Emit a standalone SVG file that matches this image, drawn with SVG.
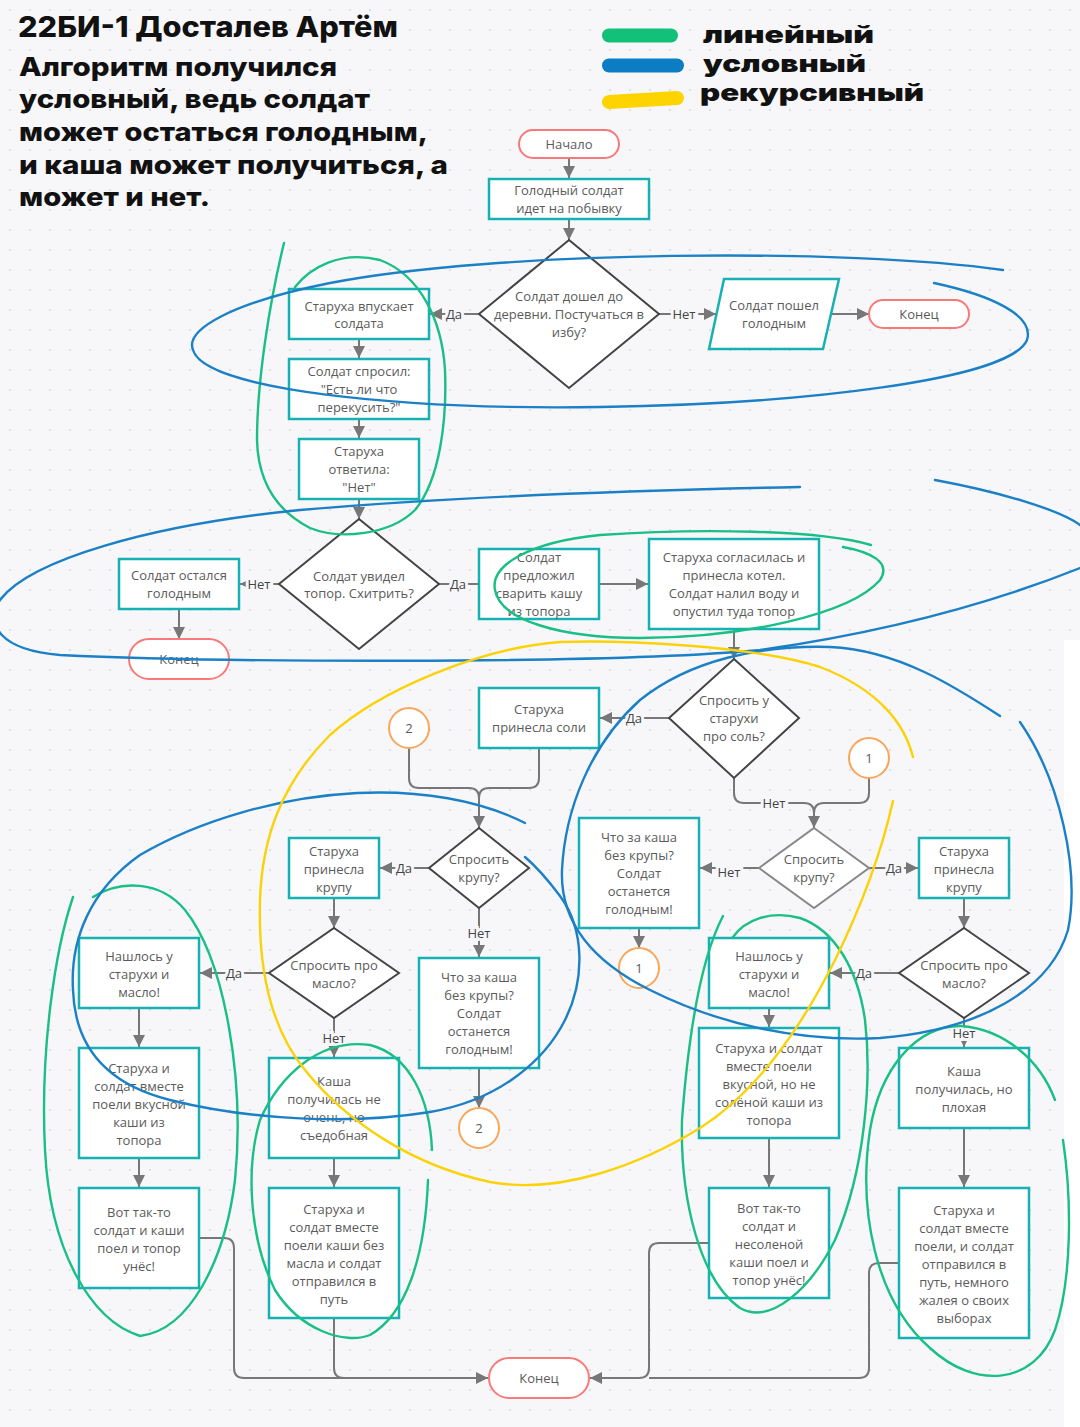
<svg xmlns="http://www.w3.org/2000/svg" width="1080" height="1427" viewBox="0 0 1080 1427">
  <defs>
    <pattern id="dots" width="20" height="20" patternUnits="userSpaceOnUse">
      <circle cx="10" cy="10" r="1.1" fill="#d9d9e0"/>
    </pattern>
    <marker id="arr" viewBox="0 0 10 10" refX="10" refY="5" markerWidth="12" markerHeight="12" markerUnits="userSpaceOnUse" orient="auto">
      <path d="M0,0 L10,5 L0,10 z" fill="#777"/>
    </marker>
    <style>
      .title{font-family:Inter,"Open Sans","DejaVu Sans",sans-serif;font-weight:800;fill:#111}
      .legend{font-family:Inter,"Open Sans","DejaVu Sans",sans-serif;font-weight:900;font-size:24px;fill:#111}
      .box{fill:#fff;stroke:#17b1b4;stroke-width:2.5}
      .term{fill:#fff;stroke:#f87a78;stroke-width:2}
      .dec{fill:#fff;stroke:#444;stroke-width:2}
      .dec2{fill:#fff;stroke:#888;stroke-width:2}
      .con{fill:#fff;stroke:#f8a75a;stroke-width:2}
      .t{font-family:"Open Sans","Liberation Sans",sans-serif;font-size:13px;fill:#5b5b5b;text-anchor:middle;dominant-baseline:central}
      .lbl{font-family:"Open Sans","Liberation Sans",sans-serif;font-size:13px;fill:#444;text-anchor:middle;dominant-baseline:central;stroke:#f7f7fa;stroke-width:6;paint-order:stroke}
      .ln{fill:none;stroke:#777;stroke-width:2}
      .hand{fill:none;stroke-width:2.4;stroke-linecap:round;stroke-linejoin:round}
      .blue{stroke:#1b80c6}
      .green{stroke:#19bf83}
      .yellow{stroke:#fbd208}
    </style>
  </defs>

  <!-- canvas -->
  <rect x="0" y="0" width="1080" height="1427" fill="#f7f7fa"/>
  <rect x="0" y="0" width="1080" height="1427" fill="url(#dots)"/>
  <rect x="1064" y="640" width="16" height="787" fill="#ffffff"/>

  <!-- heading -->
  <g id="heading">
    <text class="title" x="18" y="37" font-size="29" textLength="380" lengthAdjust="spacingAndGlyphs">22БИ-1 Досталев Артём</text>
    <text class="title" x="19" y="76" font-size="26" textLength="318" lengthAdjust="spacingAndGlyphs">Алгоритм получился</text>
    <text class="title" x="19" y="108" font-size="26" textLength="351" lengthAdjust="spacingAndGlyphs">условный, ведь солдат</text>
    <text class="title" x="19" y="141" font-size="26" textLength="409" lengthAdjust="spacingAndGlyphs">может остаться голодным,</text>
    <text class="title" x="19" y="174" font-size="26" textLength="429" lengthAdjust="spacingAndGlyphs">и каша может получиться, а</text>
    <text class="title" x="19" y="206" font-size="26" textLength="191" lengthAdjust="spacingAndGlyphs">может и нет.</text>
  </g>

  <!-- colour legend -->
  <g id="legend">
    <line x1="609" y1="35.5" x2="671" y2="35.5" stroke="#12c07a" stroke-width="14" stroke-linecap="round"/>
    <line x1="609" y1="65.5" x2="677" y2="65.5" stroke="#0c7cc4" stroke-width="14" stroke-linecap="round"/>
    <line x1="609" y1="102" x2="677" y2="98" stroke="#fdd400" stroke-width="14" stroke-linecap="round"/>
    <text class="legend" x="703" y="43" textLength="171" lengthAdjust="spacingAndGlyphs">линейный</text>
    <text class="legend" x="703" y="72" textLength="163" lengthAdjust="spacingAndGlyphs">условный</text>
    <text class="legend" x="700" y="101" textLength="224" lengthAdjust="spacingAndGlyphs">рекурсивный</text>
  </g>

  <!-- connectors -->
  <g id="connectors">
    <path class="ln" d="M569,158 V178" marker-end="url(#arr)"/>
    <path class="ln" d="M569,219 V240" marker-end="url(#arr)"/>
    <path class="ln" d="M479,314 H430" marker-end="url(#arr)"/>
    <path class="ln" d="M659,314 H716" marker-end="url(#arr)"/>
    <path class="ln" d="M831,314 H869" marker-end="url(#arr)"/>
    <path class="ln" d="M359,339 V358" marker-end="url(#arr)"/>
    <path class="ln" d="M359,419 V438" marker-end="url(#arr)"/>
    <path class="ln" d="M359,499 V519" marker-end="url(#arr)"/>
    <path class="ln" d="M279,584 H240" marker-end="url(#arr)"/>
    <path class="ln" d="M179,609 V639" marker-end="url(#arr)"/>
    <path class="ln" d="M439,584 H479"/>
    <path class="ln" d="M599,584 H648" marker-end="url(#arr)"/>
    <path class="ln" d="M734,629 V659" marker-end="url(#arr)"/>
    <path class="ln" d="M669,718 H600" marker-end="url(#arr)"/>
    <path class="ln" d="M734,778 V793 Q734,803 744,803 H804 Q814,803 814,813 V828" marker-end="url(#arr)"/>
    <path class="ln" d="M869,778 V793 Q869,803 859,803 H824 Q814,803 814,813"/>
    <path class="ln" d="M759,868 H700" marker-end="url(#arr)"/>
    <path class="ln" d="M869,868 H918" marker-end="url(#arr)"/>
    <path class="ln" d="M639,928 V948" marker-end="url(#arr)"/>
    <path class="ln" d="M964,898 V928" marker-end="url(#arr)"/>
    <path class="ln" d="M899,973 H830" marker-end="url(#arr)"/>
    <path class="ln" d="M769,1008 V1027" marker-end="url(#arr)"/>
    <path class="ln" d="M769,1138 V1187" marker-end="url(#arr)"/>
    <path class="ln" d="M964,1018 V1047" marker-end="url(#arr)"/>
    <path class="ln" d="M964,1128 V1187" marker-end="url(#arr)"/>
    <path class="ln" d="M709,1243 H659 Q649,1243 649,1253 V1368 Q649,1378 639,1378 H590" marker-end="url(#arr)"/>
    <path class="ln" d="M899,1263 H879 Q869,1263 869,1273 V1368 Q869,1378 859,1378 H649"/>
    <path class="ln" d="M409,748 V778 Q409,788 419,788 H469 Q479,788 479,798 V828" marker-end="url(#arr)"/>
    <path class="ln" d="M539,748 V778 Q539,788 529,788 H489 Q479,788 479,798"/>
    <path class="ln" d="M429,868 H380" marker-end="url(#arr)"/>
    <path class="ln" d="M479,908 V957" marker-end="url(#arr)"/>
    <path class="ln" d="M479,1068 V1108" marker-end="url(#arr)"/>
    <path class="ln" d="M334,898 V928" marker-end="url(#arr)"/>
    <path class="ln" d="M269,973 H200" marker-end="url(#arr)"/>
    <path class="ln" d="M139,1008 V1047" marker-end="url(#arr)"/>
    <path class="ln" d="M139,1158 V1187" marker-end="url(#arr)"/>
    <path class="ln" d="M334,1018 V1057" marker-end="url(#arr)"/>
    <path class="ln" d="M334,1158 V1187" marker-end="url(#arr)"/>
    <path class="ln" d="M199,1238 H224 Q234,1238 234,1248 V1368 Q234,1378 244,1378 H488" marker-end="url(#arr)"/>
    <path class="ln" d="M334,1318 V1368 Q334,1378 344,1378"/>
    <!-- branch labels -->
    <text class="lbl" x="454" y="314">Да</text>
    <text class="lbl" x="684" y="314">Нет</text>
    <text class="lbl" x="259" y="584">Нет</text>
    <text class="lbl" x="458" y="584">Да</text>
    <text class="lbl" x="634" y="718">Да</text>
    <text class="lbl" x="774" y="803">Нет</text>
    <text class="lbl" x="729" y="872">Нет</text>
    <text class="lbl" x="894" y="868">Да</text>
    <text class="lbl" x="864" y="973">Да</text>
    <text class="lbl" x="964" y="1033">Нет</text>
    <text class="lbl" x="404" y="868">Да</text>
    <text class="lbl" x="479" y="933">Нет</text>
    <text class="lbl" x="234" y="973">Да</text>
    <text class="lbl" x="334" y="1038">Нет</text>
  </g>

  <!-- nodes: upper part -->
  <g id="start"><rect class="term" x="519" y="130" width="100" height="28" rx="14"/><text class="t" x="569" y="144">Начало</text></g>
  <g id="n-walk"><rect class="box" x="489" y="179" width="160" height="40"/><text class="t"><tspan x="569" y="190">Голодный солдат</tspan><tspan x="569" y="208">идет на побывку</tspan></text></g>
  <g id="d-village"><polygon class="dec" points="569,240 659,314 569,388 479,314"/><text class="t"><tspan x="569" y="296">Солдат дошел до</tspan><tspan x="569" y="314">деревни. Постучаться в</tspan><tspan x="569" y="332">избу?</tspan></text></g>
  <g id="n-letin"><rect class="box" x="289" y="289" width="140" height="50"/><text class="t"><tspan x="359" y="306">Старуха впускает</tspan><tspan x="359" y="323">солдата</tspan></text></g>
  <g id="n-hungry-leave"><polygon class="box" points="724,279 839,279 823,349 709,349"/><text class="t"><tspan x="774" y="305">Солдат пошел</tspan><tspan x="774" y="323">голодным</tspan></text></g>
  <g id="end-1"><rect class="term" x="869" y="300" width="100" height="28" rx="14"/><text class="t" x="919" y="314">Конец</text></g>
  <g id="n-ask"><rect class="box" x="289" y="359" width="140" height="60"/><text class="t"><tspan x="359" y="371">Солдат спросил:</tspan><tspan x="359" y="389">"Есть ли что</tspan><tspan x="359" y="407">перекусить?"</tspan></text></g>
  <g id="n-answer"><rect class="box" x="299" y="439" width="120" height="60"/><text class="t"><tspan x="359" y="451">Старуха</tspan><tspan x="359" y="469">ответила:</tspan><tspan x="359" y="487">"Нет"</tspan></text></g>
  <g id="d-axe"><polygon class="dec" points="359,519 439,584 359,649 279,584"/><text class="t"><tspan x="359" y="576">Солдат увидел</tspan><tspan x="359" y="593">топор. Схитрить?</tspan></text></g>
  <g id="n-stayed-hungry"><rect class="box" x="119" y="559" width="120" height="50"/><text class="t"><tspan x="179" y="575">Солдат остался</tspan><tspan x="179" y="593">голодным</tspan></text></g>
  <g id="end-2"><rect class="term" x="129" y="639" width="100" height="40" rx="20"/><text class="t" x="179" y="659">Конец</text></g>
  <g id="n-offer"><rect class="box" x="479" y="549" width="120" height="70"/><text class="t"><tspan x="539" y="557">Солдат</tspan><tspan x="539" y="575">предложил</tspan><tspan x="539" y="593">сварить кашу</tspan><tspan x="539" y="611">из топора</tspan></text></g>
  <g id="n-pot"><rect class="box" x="649" y="539" width="170" height="90"/><text class="t"><tspan x="734" y="557">Старуха согласилась и</tspan><tspan x="734" y="575">принесла котел.</tspan><tspan x="734" y="593">Солдат налил воду и</tspan><tspan x="734" y="611">опустил туда топор</tspan></text></g>
  <g id="d-salt"><polygon class="dec" points="734,659 799,718 734,778 669,718"/><text class="t"><tspan x="734" y="700">Спросить у</tspan><tspan x="734" y="718">старухи</tspan><tspan x="734" y="736">про соль?</tspan></text></g>
  <g id="n-salt"><rect class="box" x="479" y="688" width="120" height="60"/><text class="t"><tspan x="539" y="709">Старуха</tspan><tspan x="539" y="727">принесла соли</tspan></text></g>

  <!-- nodes: salted branch -->
  <g id="c2-in"><circle class="con" cx="409" cy="728" r="20"/><text class="t" x="409" y="728">2</text></g>
  <g id="d-grain-a"><polygon class="dec" points="479,828 529,868 479,908 429,868"/><text class="t"><tspan x="479" y="859">Спросить</tspan><tspan x="479" y="877">крупу?</tspan></text></g>
  <g id="n-grain-a"><rect class="box" x="289" y="838" width="90" height="60"/><text class="t"><tspan x="334" y="851">Старуха</tspan><tspan x="334" y="869">принесла</tspan><tspan x="334" y="887">крупу</tspan></text></g>
  <g id="n-nograin-a"><rect class="box" x="419" y="958" width="120" height="110"/><text class="t"><tspan x="479" y="977">Что за каша</tspan><tspan x="479" y="995">без крупы?</tspan><tspan x="479" y="1013">Солдат</tspan><tspan x="479" y="1031">останется</tspan><tspan x="479" y="1049">голодным!</tspan></text></g>
  <g id="c2-out"><circle class="con" cx="479" cy="1128" r="20"/><text class="t" x="479" y="1128">2</text></g>
  <g id="d-butter-a"><polygon class="dec" points="334,928 399,973 334,1018 269,973"/><text class="t"><tspan x="334" y="965">Спросить про</tspan><tspan x="334" y="983">масло?</tspan></text></g>
  <g id="n-butter-a"><rect class="box" x="79" y="938" width="120" height="70"/><text class="t"><tspan x="139" y="956">Нашлось у</tspan><tspan x="139" y="974">старухи и</tspan><tspan x="139" y="992">масло!</tspan></text></g>
  <g id="n-tasty-a"><rect class="box" x="79" y="1048" width="120" height="110"/><text class="t"><tspan x="139" y="1068">Старуха и</tspan><tspan x="139" y="1086">солдат вместе</tspan><tspan x="139" y="1104">поели вкусной</tspan><tspan x="139" y="1122">каши из</tspan><tspan x="139" y="1140">топора</tspan></text></g>
  <g id="n-final-a"><rect class="box" x="79" y="1188" width="120" height="100"/><text class="t"><tspan x="139" y="1212">Вот так-то</tspan><tspan x="139" y="1230">солдат и каши</tspan><tspan x="139" y="1248">поел и топор</tspan><tspan x="139" y="1266">унёс!</tspan></text></g>
  <g id="n-edible-a"><rect class="box" x="269" y="1058" width="130" height="100"/><text class="t"><tspan x="334" y="1081">Каша</tspan><tspan x="334" y="1099">получилась не</tspan><tspan x="334" y="1117">очень, но</tspan><tspan x="334" y="1135">съедобная</tspan></text></g>
  <g id="n-nobutter-a"><rect class="box" x="269" y="1188" width="130" height="130"/><text class="t"><tspan x="334" y="1209">Старуха и</tspan><tspan x="334" y="1227">солдат вместе</tspan><tspan x="334" y="1245">поели каши без</tspan><tspan x="334" y="1263">масла и солдат</tspan><tspan x="334" y="1281">отправился в</tspan><tspan x="334" y="1299">путь</tspan></text></g>

  <!-- nodes: unsalted branch -->
  <g id="c1-in"><circle class="con" cx="869" cy="758" r="20"/><text class="t" x="869" y="758">1</text></g>
  <g id="d-grain-b"><polygon class="dec2" points="814,828 869,868 814,908 759,868"/><text class="t"><tspan x="814" y="859">Спросить</tspan><tspan x="814" y="877">крупу?</tspan></text></g>
  <g id="n-nograin-b"><rect class="box" x="579" y="818" width="120" height="110"/><text class="t"><tspan x="639" y="837">Что за каша</tspan><tspan x="639" y="855">без крупы?</tspan><tspan x="639" y="873">Солдат</tspan><tspan x="639" y="891">останется</tspan><tspan x="639" y="909">голодным!</tspan></text></g>
  <g id="c1-out"><circle class="con" cx="639" cy="968" r="20"/><text class="t" x="639" y="968">1</text></g>
  <g id="n-grain-b"><rect class="box" x="919" y="838" width="90" height="60"/><text class="t"><tspan x="964" y="851">Старуха</tspan><tspan x="964" y="869">принесла</tspan><tspan x="964" y="887">крупу</tspan></text></g>
  <g id="d-butter-b"><polygon class="dec" points="964,928 1029,973 964,1018 899,973"/><text class="t"><tspan x="964" y="965">Спросить про</tspan><tspan x="964" y="983">масло?</tspan></text></g>
  <g id="n-butter-b"><rect class="box" x="709" y="938" width="120" height="70"/><text class="t"><tspan x="769" y="956">Нашлось у</tspan><tspan x="769" y="974">старухи и</tspan><tspan x="769" y="992">масло!</tspan></text></g>
  <g id="n-tasty-b"><rect class="box" x="699" y="1028" width="140" height="110"/><text class="t"><tspan x="769" y="1048">Старуха и солдат</tspan><tspan x="769" y="1066">вместе поели</tspan><tspan x="769" y="1084">вкусной, но не</tspan><tspan x="769" y="1102">солёной каши из</tspan><tspan x="769" y="1120">топора</tspan></text></g>
  <g id="n-final-b"><rect class="box" x="709" y="1188" width="120" height="110"/><text class="t"><tspan x="769" y="1208">Вот так-то</tspan><tspan x="769" y="1226">солдат и</tspan><tspan x="769" y="1244">несоленой</tspan><tspan x="769" y="1262">каши поел и</tspan><tspan x="769" y="1280">топор унёс!</tspan></text></g>
  <g id="n-bad-b"><rect class="box" x="899" y="1048" width="130" height="80"/><text class="t"><tspan x="964" y="1071">Каша</tspan><tspan x="964" y="1089">получилась, но</tspan><tspan x="964" y="1107">плохая</tspan></text></g>
  <g id="n-nobutter-b"><rect class="box" x="899" y="1188" width="130" height="150"/><text class="t"><tspan x="964" y="1210">Старуха и</tspan><tspan x="964" y="1228">солдат вместе</tspan><tspan x="964" y="1246">поели, и солдат</tspan><tspan x="964" y="1264">отправился в</tspan><tspan x="964" y="1282">путь, немного</tspan><tspan x="964" y="1300">жалея о своих</tspan><tspan x="964" y="1318">выборах</tspan></text></g>
  <g id="end-3"><rect class="term" x="489" y="1358" width="100" height="40" rx="20"/><text class="t" x="539" y="1378">Конец</text></g>

  <!-- freehand marks over the chart -->
  <g id="marks-linear">
    <path class="hand green" d="M284,243 C270,300 257,380 257,440 C258,480 275,510 310,528 C340,540 390,535 415,510 C440,480 447,420 445,370 C442,320 420,275 380,260 C340,250 310,268 295,287"/>
    <path class="hand green" d="M871,545 C820,530 700,528 600,535 C530,542 490,565 495,590 C500,620 560,638 640,638 C740,638 850,615 880,580 C892,562 870,552 843,547"/>
    <path class="hand green" d="M73,897 C55,950 40,1050 45,1150 C50,1250 90,1320 140,1336 C190,1330 225,1260 235,1180 C245,1080 225,960 185,910 C160,880 120,880 93,897"/>
    <path class="hand green" d="M432,1150 C430,1100 410,1055 370,1045 C320,1038 280,1075 260,1120 C245,1170 250,1240 275,1290 C300,1330 345,1345 370,1335 C405,1315 425,1260 428,1180"/>
    <path class="hand green" d="M723,916 C700,960 688,1040 682,1120 C680,1200 700,1280 740,1308 C770,1325 810,1290 835,1240 C865,1170 872,1080 865,1020 C858,970 835,930 800,918 C770,910 745,920 733,937"/>
    <path class="hand green" d="M1055,1100 C1040,1060 1005,1030 962,1026 C915,1025 880,1070 870,1130 C858,1210 875,1300 930,1348 C975,1390 1035,1385 1055,1330 C1072,1280 1072,1200 1063,1140"/>
  </g>
  <g id="marks-conditional">
    <path class="hand blue" d="M1003,270 C850,248 500,250 330,283 C230,303 185,330 193,350 C205,390 400,410 600,407 C800,404 1010,380 1027,340 C1035,315 990,295 934,283"/>
    <path class="hand blue" d="M935,480 C1000,492 1060,510 1080,525 C1110,545 1100,560 1080,568 C1000,600 900,630 760,650 C600,665 200,662 60,655 C0,650 -15,625 0,600 C30,560 150,525 300,510 C450,497 650,490 800,487"/>
    <path class="hand blue" d="M525,823 C480,800 420,790 357,793 C280,797 200,820 140,855 C90,890 70,940 73,990 C75,1050 110,1085 170,1100 C250,1120 350,1125 430,1112 C500,1100 545,1060 565,1020 C585,980 585,930 560,896 C548,880 538,868 525,857"/>
    <path class="hand blue" d="M1000,716 C960,690 900,650 830,647 C760,645 690,660 640,700 C590,745 565,810 562,870 C560,920 590,960 650,990 C720,1025 800,1042 880,1038 C980,1030 1050,990 1068,930 C1080,870 1060,780 1020,722"/>
  </g>
  <g id="marks-recursive">
    <path class="hand yellow" d="M913,757 C905,725 880,690 820,667 C750,645 620,640 560,642 C480,648 380,690 330,735 C280,785 262,840 260,900 C258,970 272,1030 305,1070 C345,1120 410,1165 490,1182 C560,1195 640,1165 700,1128 C760,1090 805,1020 835,960 C862,905 882,850 893,801"/>
  </g>
</svg>
